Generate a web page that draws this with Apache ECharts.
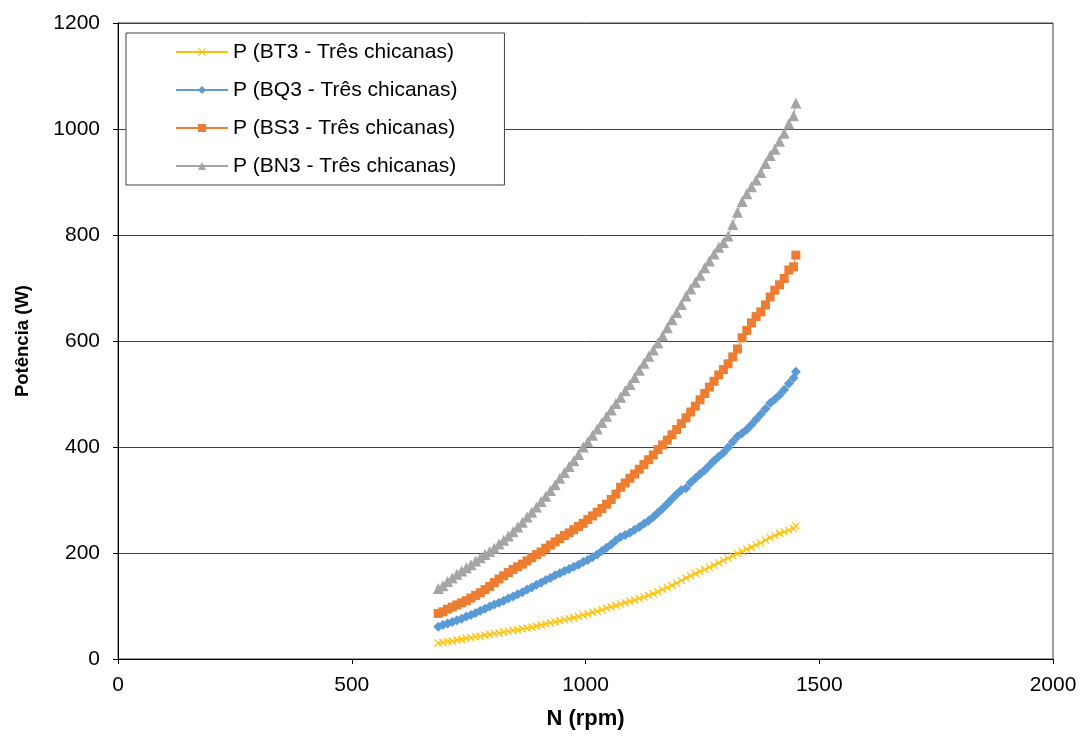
<!DOCTYPE html>
<html>
<head>
<meta charset="utf-8">
<title>Potência vs N</title>
<script src="https://cdn.jsdelivr.net/npm/echarts@6/dist/echarts.min.js"></script>
<style>
  html, body { margin: 0; padding: 0; background: #fff; }
  #chart { width: 1081px; height: 736px; }
</style>
</head>
<body>
<div id="chart"></div>
<script>
// Rotation speed (rpm) for each measurement
const rpm = [
  685, 695, 705, 715, 725, 735, 745, 755, 765, 775,
  785, 795, 805, 815, 825, 835, 845, 855, 865, 875,
  885, 895, 905, 915, 925, 935, 945, 955, 965, 975,
  985, 995, 1005, 1015, 1025, 1035, 1045, 1055, 1065, 1075,
  1085, 1095, 1105, 1115, 1125, 1135, 1145, 1155, 1165, 1175,
  1185, 1195, 1205, 1215, 1225, 1235, 1245, 1255, 1265, 1275,
  1285, 1295, 1305, 1315, 1325, 1335, 1345, 1355, 1365, 1375,
  1385, 1395, 1405, 1415, 1425, 1435, 1445, 1450
];

// Power (W), BT3 impeller, three baffles
const powerBT3 = [
  30, 31, 33, 34, 36, 37, 39, 40, 42, 43,
  45, 46, 48, 49, 51, 52, 54, 55, 57, 58,
  60, 62, 64, 66, 68, 70, 72, 74, 76, 78,
  80, 83, 85, 88, 90, 93, 96, 98, 101, 104,
  106, 109, 111, 114, 117, 120, 123, 127, 131, 135,
  139, 143, 148, 153, 157, 161, 165, 169, 173, 177,
  181, 186, 190, 195, 199, 203, 207, 211, 215, 219,
  224, 229, 233, 237, 240, 243, 246, 251
];

// Power (W), BQ3 impeller, three baffles
const powerBQ3 = [
  61, 64, 67, 70, 73, 76, 80, 83, 87, 91,
  95, 99, 103, 106, 110, 114, 118, 122, 126, 131,
  135, 140, 144, 149, 153, 158, 162, 166, 170, 174,
  178, 183, 187, 192, 197, 204, 210, 216, 224, 230,
  234, 238, 244, 249, 255, 261, 268, 276, 284, 293,
  302, 311, 319, 322, 333, 341, 349, 356, 365, 374,
  382, 389, 399, 410, 420, 426, 433, 442, 452, 462,
  472, 483, 490, 498, 508, 520, 530, 542
];

// Power (W), BS3 impeller, three baffles
const powerBS3 = [
  86, 89, 94, 98, 102, 106, 110, 115, 120, 125,
  131, 137, 144, 151, 157, 163, 169, 174, 179, 185,
  191, 197, 202, 209, 215, 221, 227, 233, 238, 244,
  250, 256, 263, 270, 277, 284, 292, 301, 311, 324,
  332, 341, 349, 358, 367, 376, 385, 395, 404, 413,
  423, 433, 444, 455, 466, 477, 489, 501, 513, 524,
  536, 546, 557, 570, 585, 606, 620, 634, 646, 655,
  668, 683, 696, 706, 718, 734, 740, 762
];

// Power (W), BN3 impeller, three baffles
const powerBN3 = [
  133, 138, 146, 153, 160, 166, 172, 178, 185, 191,
  197, 203, 209, 217, 224, 232, 240, 249, 258, 268,
  277, 287, 297, 307, 318, 329, 341, 352, 363, 374,
  386, 400, 410, 422, 434, 446, 458, 470, 482, 494,
  506, 518, 531, 545, 558, 571, 583, 596, 610, 625,
  640, 654, 669, 685, 698, 711, 724, 738, 751, 764,
  777, 786, 798, 820, 843, 863, 878, 891, 904, 918,
  935, 950, 962, 977, 992, 1010, 1025, 1049
];

const seriesNames = [
  'P (BT3 - Três chicanas)',
  'P (BQ3 - Três chicanas)',
  'P (BS3 - Três chicanas)',
  'P (BN3 - Três chicanas)'
];

const xTicks = [0, 500, 1000, 1500, 2000];
const yTicks = [0, 200, 400, 600, 800, 1000, 1200];

const FONT = "'Liberation Sans', Arial, sans-serif";
const crossPath = 'path://M0,1 L1,0 L5,4 L9,0 L10,1 L6,5 L10,9 L9,10 L5,6 L1,10 L0,9 L4,5 Z';

function pairs(values) {
  return rpm.map((n, i) => [n, values[i]]);
}

function makeSeries(name, values, color, symbol, size) {
  return {
    name: name,
    type: 'line',
    data: pairs(values),
    symbol: symbol,
    symbolSize: size,
    showAllSymbol: true,
    lineStyle: { color: color, width: 1 },
    itemStyle: { color: color },
    emphasis: { disabled: true }
  };
}

const chart = echarts.init(document.getElementById('chart'), null, { renderer: 'canvas' });

chart.setOption({
  animation: false,
  backgroundColor: '#ffffff',
  textStyle: { fontFamily: FONT },
  grid: {
    left: 118, right: 28, top: 23, bottom: 77,
    show: true, borderColor: '#404040', borderWidth: 1,
    containLabel: false
  },
  legend: {
    orient: 'vertical',
    left: 126,
    top: 33,
    padding: [7, 47, 7, 49],
    itemWidth: 52,
    itemHeight: 10,
    itemGap: 14,
    backgroundColor: '#ffffff',
    borderColor: '#404040',
    borderWidth: 1,
    textStyle: { fontFamily: FONT, fontSize: 21, color: '#000', lineHeight: 24 },
    data: seriesNames
  },
  xAxis: {
    type: 'value',
    min: xTicks[0],
    max: xTicks[xTicks.length - 1],
    interval: 500,
    name: 'N (rpm)',
    nameLocation: 'middle',
    nameGap: 49,
    nameTextStyle: { fontFamily: FONT, fontSize: 22, fontWeight: 'bold', color: '#000' },
    axisLine: { show: true, lineStyle: { color: '#000', width: 1 } },
    axisTick: { show: true, length: 5, lineStyle: { color: '#000' } },
    axisLabel: { margin: 16, fontFamily: FONT, fontSize: 21, color: '#000', formatter: v => String(v) },
    splitLine: { show: false }
  },
  yAxis: {
    type: 'value',
    min: yTicks[0],
    max: yTicks[yTicks.length - 1],
    interval: 200,
    name: 'Potência (W)',
    nameLocation: 'middle',
    nameGap: 86,
    nameTextStyle: { fontFamily: FONT, fontSize: 18.5, fontWeight: 'bold', color: '#000' },
    axisLine: { show: true, lineStyle: { color: '#000', width: 1 } },
    axisTick: { show: true, length: 5, lineStyle: { color: '#000' } },
    axisLabel: { margin: 18, fontFamily: FONT, fontSize: 21, color: '#000', formatter: v => String(v) },
    splitLine: { show: true, lineStyle: { color: '#404040', width: 1 } }
  },
  series: [
    makeSeries(seriesNames[0], powerBT3, '#FFC000', crossPath, 8),
    makeSeries(seriesNames[1], powerBQ3, '#5B9BD5', 'diamond', 10),
    makeSeries(seriesNames[2], powerBS3, '#ED7D31', 'rect', 9),
    makeSeries(seriesNames[3], powerBN3, '#A5A5A5', 'triangle', 11)
  ]
});
</script>
</body>
</html>
